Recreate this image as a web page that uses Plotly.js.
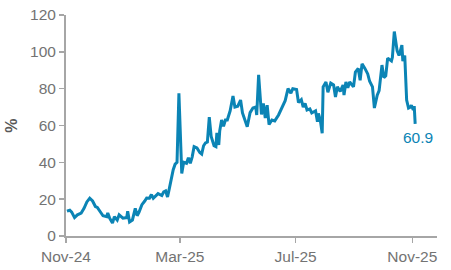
<!DOCTYPE html>
<html>
<head>
<meta charset="utf-8">
<script src="https://cdn.plot.ly/plotly-3.0.1.min.js"></script>
<style>html,body{margin:0;padding:0;background:#fff;}#chart{width:451px;height:270px;}</style>
</head>
<body>
<div id="chart"></div>
<script>
var dates = [
"2024-11-02","2024-11-05","2024-11-07","2024-11-10","2024-11-13","2024-11-17","2024-11-20","2024-11-23","2024-11-26","2024-11-29",
"2024-12-02","2024-12-04","2024-12-08","2024-12-10","2024-12-14","2024-12-15","2024-12-17","2024-12-20","2024-12-22","2024-12-25",
"2024-12-27","2024-12-31","2025-01-04","2025-01-05","2025-01-07","2025-01-10","2025-01-13","2025-01-15","2025-01-17","2025-01-20",
"2025-01-23","2025-01-25","2025-01-28","2025-01-30","2025-02-01","2025-02-04","2025-02-06","2025-02-10","2025-02-12","2025-02-14",
"2025-02-16","2025-02-18","2025-02-20","2025-02-22","2025-02-24","2025-02-26","2025-02-28","2025-03-02","2025-03-03","2025-03-05",
"2025-03-08","2025-03-10","2025-03-12","2025-03-14","2025-03-16","2025-03-19","2025-03-22","2025-03-24","2025-03-26","2025-03-28",
"2025-03-30","2025-04-01","2025-04-03","2025-04-06","2025-04-08","2025-04-09","2025-04-11","2025-04-12","2025-04-14","2025-04-16",
"2025-04-18","2025-04-20","2025-04-23","2025-04-26","2025-04-28","2025-05-01","2025-05-04","2025-05-06","2025-05-09","2025-05-11",
"2025-05-14","2025-05-17","2025-05-20","2025-05-21","2025-05-23","2025-05-26","2025-05-28","2025-05-30","2025-06-01","2025-06-03",
"2025-06-06","2025-06-09","2025-06-13","2025-06-17","2025-06-20","2025-06-23","2025-06-26","2025-06-28","2025-07-02","2025-07-04",
"2025-07-07","2025-07-09","2025-07-11","2025-07-13","2025-07-16","2025-07-18","2025-07-22","2025-07-24","2025-07-25","2025-07-27",
"2025-07-29","2025-07-30","2025-08-02","2025-08-04","2025-08-07","2025-08-10","2025-08-12","2025-08-14","2025-08-17","2025-08-20",
"2025-08-21","2025-08-23","2025-08-25","2025-08-27","2025-08-31","2025-09-02","2025-09-05","2025-09-07","2025-09-09","2025-09-12",
"2025-09-15","2025-09-17","2025-09-20","2025-09-22","2025-09-25","2025-09-27","2025-09-30","2025-10-02","2025-10-04","2025-10-06",
"2025-10-10","2025-10-11","2025-10-13","2025-10-16","2025-10-18","2025-10-21","2025-10-22","2025-10-24","2025-10-26","2025-10-28",
"2025-10-30","2025-10-31","2025-11-02","2025-11-03","2025-11-04"
];
var values = [
13.5,14,13,10,11.5,12.5,15,18.5,20.5,19,
16,15.5,12.5,11,10.5,12.5,9.7,7,10.5,8.7,
11.5,9.7,10,13.5,7.6,8.7,15,11,13,17,
19,20.6,20.5,22.5,20.5,22,23,22,24,24.5,
21.2,26,32,36,39,40,77.5,39.5,34,40,
39.5,42.5,39.5,43,48.5,47.8,45.3,44.5,49,50.5,
51,64.6,54,49,48.5,56,49.4,57,63,59.5,
63,63,68,76,70,70.5,73.8,66.8,62,59.3,
67,69.5,70,65.7,87.5,66,72,64,71,60.5,
63,62.5,65.7,70,73.5,80,77.6,80,79.5,72.5,
74,70,72,68.4,69,66.8,68,62,66.5,63,
55.8,81,83.6,78,83,82,75.5,81,78.5,82,
76.5,83.6,80.5,83.6,81,89,91,84.5,93.5,91,
88,84,81,69.5,76.5,79,92.8,86,87,96.6,
95,97,111,100.5,98,103.7,95,98,73.8,69.5,
70,71,68.4,70.5,60.9
];
var yTicks = [0,20,40,60,80,100,120];
var xTickVals = ["2024-11-01","2025-03-01","2025-07-01","2025-11-01"];
var xTickText = ["Nov-24","Mar-25","Jul-25","Nov-25"];
var lastLabel = "60.9";

var lineColor = "#0b84b5";
var grey = "#737373";
var axisGrey = "#a6a6a6";

Plotly.newPlot("chart", [{
  x: dates, y: values, type: "scatter", mode: "lines",
  line: {color: lineColor, width: 3}, hoverinfo: "skip"
}], {
  width: 451, height: 270,
  margin: {l: 66, r: 14, t: 15, b: 34, pad: 0},
  paper_bgcolor: "#fff", plot_bgcolor: "#fff",
  showlegend: false,
  font: {family: "Liberation Sans, Arial, sans-serif", size: 15.5, color: grey},
  xaxis: {
    type: "date", range: ["2024-11-01", "2025-11-27"],
    tickvals: xTickVals, ticktext: xTickText,
    showgrid: false, zeroline: false,
    showline: true, linecolor: axisGrey, linewidth: 2,
    ticks: "outside", ticklen: 5, tickcolor: axisGrey, tickwidth: 1.5,
    tickfont: {size: 15.5, color: grey}
  },
  yaxis: {
    range: [0, 120], tickvals: yTicks,
    showgrid: false, zeroline: false,
    showline: true, linecolor: axisGrey, linewidth: 2,
    ticks: "outside", ticklen: 5, tickcolor: axisGrey, tickwidth: 1.5,
    tickfont: {size: 15.5, color: grey},
    title: {text: "<b>%</b>", font: {size: 16, color: "#595959"}, standoff: 8}
  },
  annotations: [{
    x: dates[dates.length - 1], y: values[values.length - 1],
    xref: "x", yref: "y", text: lastLabel, showarrow: false,
    xanchor: "center", yanchor: "middle", xshift: 3, yshift: -14,
    font: {size: 15.5, color: lineColor}
  }]
}, {displayModeBar: false, staticPlot: true});
</script>
</body>
</html>
